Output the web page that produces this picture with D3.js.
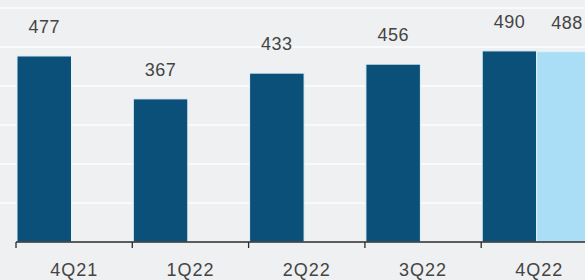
<!DOCTYPE html>
<html>
<head>
<meta charset="utf-8">
<script src="https://cdn.jsdelivr.net/npm/d3@7"></script>
<style>
  body { margin: 0; background: #eef0f2; }
  svg { display: block; }
  text { font-family: "Liberation Sans", Arial, sans-serif; fill: #444; }
</style>
</head>
<body>
<svg></svg>
<script>
let width = 585;
let height = 280;

// quarters and the two series (actual, estimate)
let quarters = ['4Q21', '1Q22', '2Q22', '3Q22', '4Q22'];
let actual = [477, 367, 433, 456, 490];
let estimate = [null, null, null, null, 488];
let yTicks = [0, 100, 200, 300, 400, 500, 600];

let svg = d3.select('svg')
    .attr('width', width)
    .attr('height', height);

let x = d3.scaleBand()
    .domain(quarters)
    .range([16, 16 + 116.3 * quarters.length])
    .padding(0);

let xSub = d3.scaleBand()
    .domain(['actual', 'estimate'])
    .range([1, 110])
    .padding(0);

let y = d3.scaleLinear()
    .domain([0, 600])
    .range([242, 8]);

// gridlines
svg.append('g')
    .selectAll('line')
    .data(yTicks.slice(1))
    .enter()
    .append('line')
    .attr('x1', 0)
    .attr('x2', width)
    .attr('y1', d => y(d))
    .attr('y2', d => y(d))
    .style('stroke', '#f9fafb')
    .style('stroke-width', 2);

// flatten both series into one list of bars
let bars = [];
quarters.forEach((q, i) => {
    if (actual[i] != null) bars.push({ q: q, key: 'actual', v: actual[i] });
    if (estimate[i] != null) bars.push({ q: q, key: 'estimate', v: estimate[i] });
});

let colors = { actual: '#0b5079', estimate: '#a9def6' };

svg.append('g')
    .selectAll('rect')
    .data(bars)
    .enter()
    .append('rect')
    .attr('x', d => x(d.q) + xSub(d.key))
    .attr('width', xSub.bandwidth())
    .attr('y', d => y(d.v))
    .attr('height', d => y(0) - y(d.v))
    .style('fill', d => colors[d.key])
    .style('stroke', '#e4f2fa')
    .style('stroke-width', 1);

// value labels
svg.append('g')
    .selectAll('text')
    .data(bars)
    .enter()
    .append('text')
    .attr('x', d => x(d.q) + xSub(d.key) + xSub.bandwidth() / 2 + (d.key === 'estimate' ? 3 : 0))
    .attr('y', d => y(d.v) - 23)
    .attr('text-anchor', 'middle')
    .style('font-size', '18px')
    .style('letter-spacing', '0.5px')
    .text(d => d.v);

// x axis: baseline, ticks between categories, labels
let axis = svg.append('g');
axis.append('line')
    .attr('x1', x.range()[0])
    .attr('x2', width)
    .attr('y1', y(0))
    .attr('y2', y(0))
    .style('stroke', '#2b2b2b')
    .style('stroke-width', 1.3);

axis.selectAll('line.tick')
    .data(quarters)
    .enter()
    .append('line')
    .classed('tick', true)
    .attr('x1', d => x(d))
    .attr('x2', d => x(d))
    .attr('y1', y(0))
    .attr('y2', y(0) + 6)
    .style('stroke', '#2b2b2b')
    .style('stroke-width', 1.3);

axis.selectAll('text')
    .data(quarters)
    .enter()
    .append('text')
    .attr('x', d => x(d) + x.bandwidth() / 2)
    .attr('y', 276)
    .attr('text-anchor', 'middle')
    .style('font-size', '18px')
    .style('letter-spacing', '1px')
    .text(d => d);
</script>
</body>
</html>
